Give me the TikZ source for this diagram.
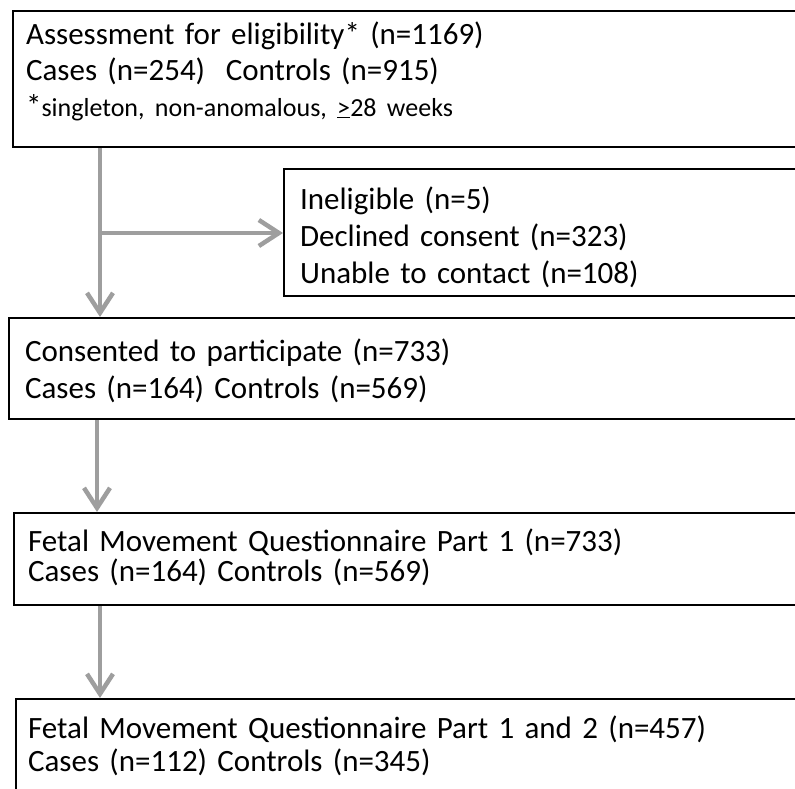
\documentclass[tikz,border=0pt]{standalone}
\usepackage{fontspec}
\setmainfont{Carlito}
\usetikzlibrary{arrows.meta}
\definecolor{arrowgray}{RGB}{158,158,158}

\begin{document}
\begin{tikzpicture}[x=1pt,y=-1pt,line join=miter,
	flowbox/.style={draw=black,line width=2.2pt,anchor=north west,inner ysep=0pt,inner xsep=15pt,text width=820pt,align=left},
	flowarrow/.style={draw=arrowgray,line width=4.5pt,-{Straight Barb[length=20pt,width=26pt]}}]
\useasboundingbox (0,0) rectangle (795,788);
\clip (0,0) rectangle (795,788);
% boxes
\node[flowbox,inner xsep=13pt,text height=33pt,text depth=103pt,font=\fontsize{31}{36}\selectfont] (assess) at (12,10)
	{Assessment for eligibility* (n=1169)\\ Cases (n=254)\ \ Controls (n=915)\\ {*}{\fontsize{26}{36}\selectfont singleton, non-anomalous, \underline{>}28 weeks}};
\node[flowbox,inner xsep=16pt,text height=40pt,text depth=87pt,font=\fontsize{31}{37}\selectfont] (inelig) at (283,168)
	{Ineligible (n=5)\\ Declined consent (n=323)\\ Unable to contact (n=108)};
\node[flowbox,inner xsep=16pt,text height=43pt,text depth=58pt,font=\fontsize{31}{37}\selectfont] (consent) at (8,317)
	{Consented to participate (n=733)\\ Cases (n=164) Controls (n=569)};
\node[flowbox,inner xsep=14pt,text height=38pt,text depth=54pt,font=\fontsize{31}{30}\selectfont] (fmqone) at (13,512)
	{Fetal Movement Questionnaire Part 1 (n=733)\\ Cases (n=164) Controls (n=569)};
\node[flowbox,inner xsep=12pt,text height=39pt,text depth=110pt,font=\fontsize{31}{33}\selectfont] (fmqtwo) at (15,698)
	{Fetal Movement Questionnaire Part 1 and 2 (n=457)\\ Cases (n=112) Controls (n=345)};
% arrows
\coordinate (split) at (100,233);
\draw[flowarrow] (assess.south -| split) -- (consent.north -| split);
\draw[flowarrow] (split) -- (split -| inelig.west);
\draw[flowarrow] ([xshift=89pt]consent.south west) -- ([xshift=84pt]fmqone.north west);
\draw[flowarrow] ([xshift=87pt]fmqone.south west) -- ([xshift=85pt]fmqtwo.north west);
\end{tikzpicture}
\end{document}
